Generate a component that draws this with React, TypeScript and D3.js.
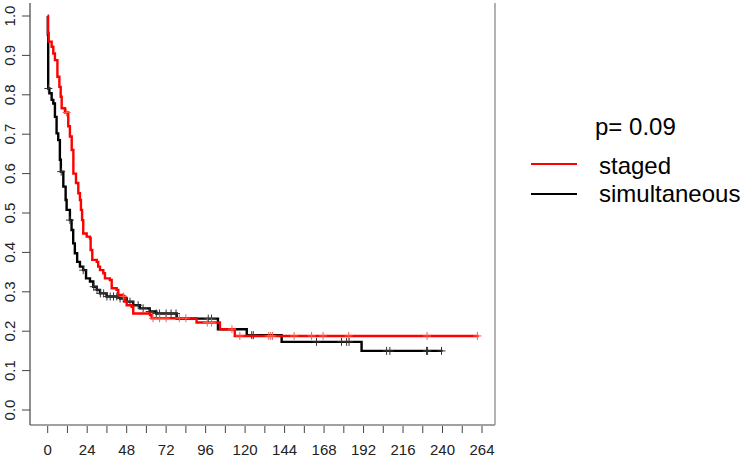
import React from 'react';
import * as d3 from 'd3';

// Kaplan-Meier style step curves.
// Each step: [time (months), survival after the drop at that time].

const STAGED_STEPS: [number, number][] = [
  [0, 1.0], [0.2, 0.957], [0.6, 0.935], [2.4, 0.922], [3.4, 0.905], [4.4, 0.888],
  [5.9, 0.846], [7.1, 0.82], [7.9, 0.795], [8.5, 0.766], [10.5, 0.755], [12.5, 0.72],
  [13.5, 0.694], [14.6, 0.66], [15.6, 0.6], [17.2, 0.576], [18.6, 0.55], [19.6, 0.533],
  [20.2, 0.508], [20.9, 0.482], [21.6, 0.448], [23.7, 0.44], [25.7, 0.436], [26.1, 0.406],
  [27.1, 0.381], [29.8, 0.376], [30.7, 0.364], [31.8, 0.355], [33.8, 0.347], [34.8, 0.334],
  [37.8, 0.33], [38.9, 0.309], [41.9, 0.305], [42.9, 0.292], [45.9, 0.288], [47, 0.275],
  [48, 0.266], [51, 0.262], [52, 0.245], [62.2, 0.241], [63.2, 0.233], [90.5, 0.222],
  [104.7, 0.205], [113.7, 0.188],
];
const STAGED_END = 262;
const STAGED_CENSORED = [
  11.5, 46, 64, 68, 72, 80, 84, 97, 99.6, 112, 116.8, 134.4, 135.6, 136.7, 149.8,
  160.4, 167.4, 183, 230.6, 261.2,
];

const SIMULT_STEPS: [number, number][] = [
  [0, 1.0], [0.1, 0.952], [0.3, 0.816], [1, 0.804], [2.4, 0.787], [3.4, 0.778],
  [4.4, 0.744], [5.4, 0.702], [6.4, 0.685], [7.4, 0.635], [8, 0.605], [9.5, 0.567],
  [10.9, 0.533], [11.5, 0.508], [13.5, 0.482], [14.5, 0.457], [15.5, 0.423], [16.5, 0.398],
  [17.9, 0.376], [19.6, 0.364], [21.6, 0.355], [23.3, 0.334], [25.7, 0.326], [27.7, 0.313],
  [29.8, 0.305], [31.8, 0.296], [35.8, 0.288], [44, 0.283], [48, 0.275], [52, 0.266],
  [56, 0.258], [62, 0.25], [66, 0.245], [78.4, 0.232], [103.5, 0.205], [121, 0.19],
  [142.2, 0.173], [190.8, 0.15],
];
const SIMULT_END = 240;
const SIMULT_CENSORED = [
  0.4, 8.2, 13.5, 21.6, 28, 30, 32, 34, 36, 38, 40, 42, 44, 46, 48, 50, 52, 55, 58,
  62, 66, 68, 72, 75, 78, 97.6, 99.6, 124, 125, 163.4, 178.6, 181.7, 183.2, 206, 208,
  230.3, 230.9, 239.4,
];

const X_TICKS = d3.range(0, 265, 12);
const X_LABELS = d3.range(0, 265, 24);
const Y_TICKS = d3.range(0, 11).map((i) => i / 10);

const P_LABEL = 'p= 0.09';
const SERIES_NAMES = ['staged', 'simultaneous'];
const SERIES_COLORS = ['#ff0000', '#000000'];

const W = 750;
const H = 458;
const BOX = { left: 30, right: 495, top: 3, bottom: 425 };

const FONT = '"Liberation Sans", Arial, sans-serif';

function survAt(steps: [number, number][], t: number) {
  let s = steps[0][1];
  for (const [tt, ss] of steps) {
    if (tt <= t) s = ss;
    else break;
  }
  return s;
}

export default function App() {
  const x = d3.scaleLinear().domain([0, 264]).range([47.7, 482]);
  const y = d3.scaleLinear().domain([0, 1]).range([410, 16]);

  const line = d3
    .line<[number, number]>()
    .x((d) => x(d[0]))
    .y((d) => y(d[1]))
    .curve(d3.curveStepAfter);

  const series = [
    { steps: SIMULT_STEPS, end: SIMULT_END, cens: SIMULT_CENSORED, color: SERIES_COLORS[1], mark: '#333' },
    { steps: STAGED_STEPS, end: STAGED_END, cens: STAGED_CENSORED, color: SERIES_COLORS[0], mark: '#ff5a4a' },
  ];

  return (
    <svg
      width={W}
      height={H}
      style={{ position: 'absolute', left: 0, top: 0, background: '#fff' }}
      fontFamily={FONT}
    >
      {/* frame */}
      <line x1={BOX.left} x2={BOX.left} y1={BOX.top} y2={BOX.bottom} stroke="#444" strokeWidth={1.2} />
      <line x1={BOX.left} x2={BOX.right} y1={BOX.bottom} y2={BOX.bottom} stroke="#444" strokeWidth={1.2} />
      <line x1={BOX.right} x2={BOX.right} y1={BOX.top} y2={BOX.bottom} stroke="#999" strokeWidth={1.5} />

      {/* y axis */}
      {Y_TICKS.map((v) => (
        <g key={`y-${v}`}>
          <line x1={BOX.left - 8} x2={BOX.left} y1={y(v)} y2={y(v)} stroke="#444" strokeWidth={1} />
          <text
            transform={`translate(14.5, ${y(v)}) rotate(-90)`}
            textAnchor="middle"
            fontSize={15}
            fill="#222"
          >
            {v.toFixed(1)}
          </text>
        </g>
      ))}

      {/* x axis */}
      {X_TICKS.map((v) => (
        <line key={`xt-${v}`} x1={x(v)} x2={x(v)} y1={BOX.bottom + 1} y2={BOX.bottom + 8} stroke="#444" strokeWidth={1} />
      ))}
      {X_LABELS.map((v) => (
        <text key={`xl-${v}`} x={x(v)} y={455} textAnchor="middle" fontSize={15} fill="#222">
          {v}
        </text>
      ))}

      {/* curves */}
      {series.map((s, i) => {
        const pts: [number, number][] = [...s.steps, [s.end, s.steps[s.steps.length - 1][1]]];
        return (
          <g key={`s-${i}`}>
            <path d={line(pts) ?? ''} fill="none" stroke={s.color} strokeWidth={2.4} />
            {s.cens.map((t, j) => {
              const cx = x(t);
              const cy = y(survAt(s.steps, t));
              return (
                <g key={`c-${j}`} stroke={s.mark} strokeWidth={1}>
                  <line x1={cx - 4} x2={cx + 4} y1={cy} y2={cy} />
                  <line x1={cx} x2={cx} y1={cy - 4} y2={cy + 4} />
                </g>
              );
            })}
          </g>
        );
      })}

      {/* legend */}
      <text x={595} y={135} fontSize={24} fill="#000">
        {P_LABEL}
      </text>
      {SERIES_NAMES.map((name, i) => (
        <g key={name}>
          <line x1={531} x2={577} y1={164 + i * 30} y2={164 + i * 30} stroke={SERIES_COLORS[i]} strokeWidth={2} />
          <text x={599} y={174 + i * 28} fontSize={24} fill="#000">
            {name}
          </text>
        </g>
      ))}
    </svg>
  );
}
